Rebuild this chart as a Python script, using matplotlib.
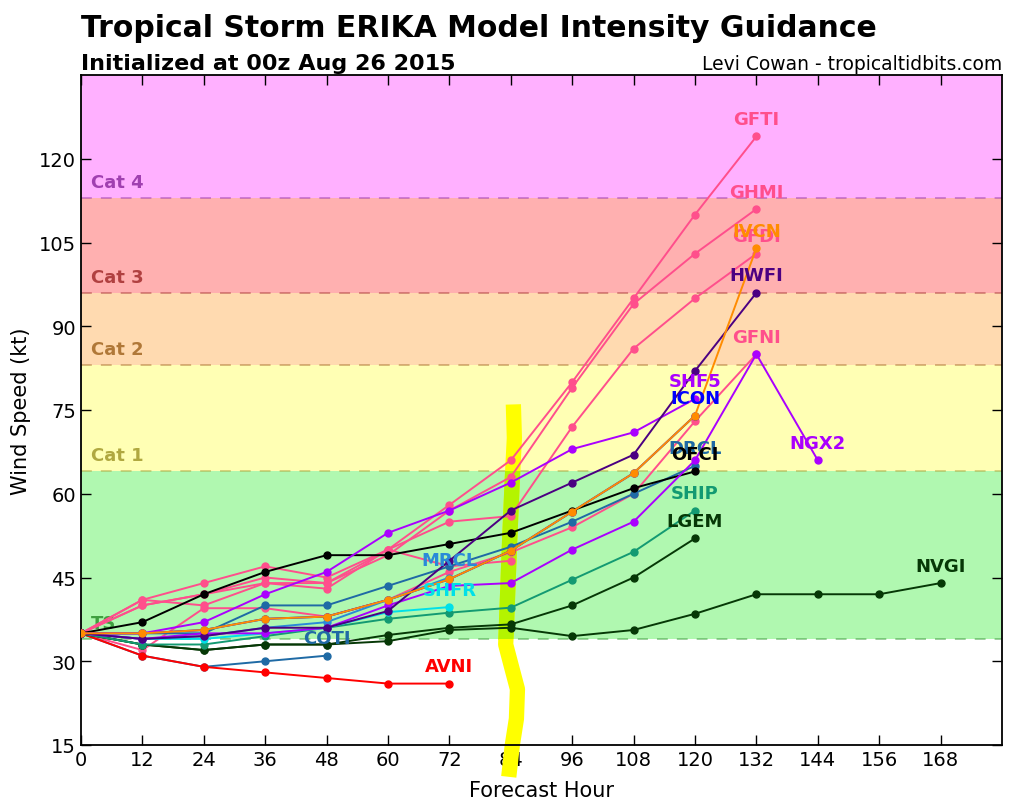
import matplotlib
matplotlib.use('Agg')
import matplotlib.pyplot as plt
from matplotlib.patches import Rectangle

# forecast hours, every 12 h
hours = [0, 12, 24, 36, 48, 60, 72, 84, 96, 108, 120, 132, 144, 156, 168]

# model intensity forecasts (kt), from hour 0 onward
GFTI = [35, 41, 44, 47, 45, 50, 58, 66, 80, 95, 110, 124]
GHMI = [35, 40, 42, 45, 44, 49, 57, 63, 79, 94, 103, 111]
GFDI = [35, 41, 40, 44, 44, 50, 55, 56, 72, 86, 95, 103]
GFNI = [35, 32, 39.5, 39.5, 38, 41, 46, 49.5, 54, 60, 73, 85]
PINK_X = [35, 40, 42, 44, 43, 50, 47, 48]
ICON = [35, 35, 35.6, 37.6, 38, 41, 44.7, 49.8, 56.8, 63.7, 74]
IVCN = [35, 35, 35.6, 37.6, 38, 41, 44.7, 49.8, 56.8, 63.7, 74, 104]
HWFI = [35, 34, 34.5, 36, 36, 39, 48, 57, 62, 67, 82, 96]
SHF5 = [35, 35, 37, 42, 46, 53, 57, 62, 68, 71, 77]
NGX2 = [35, 34, 35, 35, 36, 40, 43.5, 44, 50, 55, 66, 85, 66]
OFCI = [35, 37, 42, 46, 49, 49, 51, 53, 57, 61, 64]
DRCL = [35, 35, 35, 40, 40, 43.5, 47, 50.5, 55, 60, 65]
MRCL = [35, 34, 34.5, 36, 37, 41, 45]
SHFR = [35, 34, 34, 35, 36, 38.8, 39.7]
SHIP = [35, 33, 33, 34.5, 36, 37.6, 38.7, 39.6, 44.6, 49.6, 57]
LGEM = [35, 33, 32, 33, 33, 34.7, 36, 36.6, 40, 45, 52]
NVGI = [35, 33, 32, 33, 33, 33.6, 35.6, 36, 34.5, 35.6, 38.5, 42, 42, 42, 44]
COTI = [35, 31, 29, 30, 31]
AVNI = [35, 31, 29, 28, 27, 26, 26]

# hand drawn highlighter stroke near hour 84
mark_h = [84.5, 84.7, 84.3, 83.7, 83.2, 83.0, 84.0, 85.3, 85.1, 84.3, 83.6]
mark_kt = [76, 70, 62.7, 50, 37.6, 33, 29.5, 25, 19.7, 15, 9.3]

# Saffir-Simpson bands
band_names = ['TS', 'Cat 1', 'Cat 2', 'Cat 3', 'Cat 4']
band_lo = [34, 64, 83, 96, 113]
band_hi = [64, 83, 96, 113, 140]
band_fill = ['#b0f8b0', '#ffffb4', '#ffdab0', '#ffb0b0', '#ffb0ff']
band_text = ['#40a040', '#b0a840', '#b07838', '#b04040', '#a040b0']

PINK = '#ff4f8c'
models = [
    ('GFTI', GFTI, PINK, True),
    ('GHMI', GHMI, PINK, True),
    ('GFDI', GFDI, PINK, True),
    ('', PINK_X, PINK, False),
    ('GFNI', GFNI, PINK, True),
    ('COTI', COTI, '#1f6aa5', True),
    ('AVNI', AVNI, '#ff0000', True),
    ('NVGI', NVGI, '#063806', True),
    ('LGEM', LGEM, '#063806', True),
    ('SHIP', SHIP, '#139a72', True),
    ('SHFR', SHFR, '#00e0e8', True),
    ('ICON', ICON, '#0000ff', True),
    ('MRCL', MRCL, '#2a8ad8', True),
    ('DRCL', DRCL, '#1f6aa5', True),
    ('OFCI', OFCI, '#000000', True),
    ('NGX2', NGX2, '#aa00ff', True),
    ('SHF5', SHF5, '#aa00ff', True),
    ('HWFI', HWFI, '#4b0082', True),
    ('IVCN', IVCN, '#ff8c00', True),
]

fig = plt.figure(figsize=(10.34, 8.04), dpi=100)
ax = fig.add_axes([81 / 1034, 58 / 804, 921 / 1034, 670 / 804])

for name, lo, hi, fc, tc in zip(band_names, band_lo, band_hi, band_fill, band_text):
    ax.axhspan(lo, hi, color=fc, zorder=0, lw=0)
    ax.axhline(lo, color=tc, ls='--', dashes=(6, 5), lw=1.3, alpha=0.55, zorder=1)
    ax.text(2, lo + 2, name, color=tc, fontsize=13, fontweight='bold', zorder=2)

# highlighter stroke: yellow, turning lime where it crosses the green band
hl, = ax.plot(mark_h, mark_kt, color='#ffff00', lw=11, solid_capstyle='butt',
              zorder=2, clip_on=False)
lime, = ax.plot(mark_h, mark_kt, color='#b4f400', lw=11, solid_capstyle='butt', zorder=2)
lime.set_clip_path(Rectangle((0, band_lo[0]), 180, band_hi[0] - band_lo[0],
                             transform=ax.transData))

for name, vals, col, lab in models:
    hh = hours[:len(vals)]
    ax.plot(hh, vals, color=col, lw=1.4, marker='o', ms=5, mec=col, zorder=3)
    if lab:
        ax.annotate(name, (hh[-1], vals[-1]), xytext=(0, 6), textcoords='offset points',
                    ha='center', va='bottom', color=col, fontsize=13,
                    fontweight='bold', zorder=4)

ax.set_xlim(0, 180)
ax.set_ylim(15, 135)
ax.set_xticks(hours)
ax.set_yticks(range(15, 121, 15))
ax.tick_params(direction='in', top=True, right=True, length=7, width=1, labelsize=14)
for s in ax.spines.values():
    s.set_linewidth(1.3)
ax.set_xlabel('Forecast Hour', fontsize=15, labelpad=8)
ax.set_ylabel('Wind Speed (kt)', fontsize=15, labelpad=6)

fig.text(81 / 1034, 1 - 37 / 804, 'Tropical Storm ERIKA Model Intensity Guidance',
         fontsize=21.5, fontweight='bold', ha='left', va='baseline')
fig.text(81 / 1034, 1 - 70 / 804, 'Initialized at 00z Aug 26 2015',
         fontsize=16, fontweight='bold', ha='left', va='baseline')
fig.text(1002 / 1034, 1 - 70 / 804, 'Levi Cowan - tropicaltidbits.com',
         fontsize=13.5, ha='right', va='baseline')

fig.savefig('out.png', dpi=100)
